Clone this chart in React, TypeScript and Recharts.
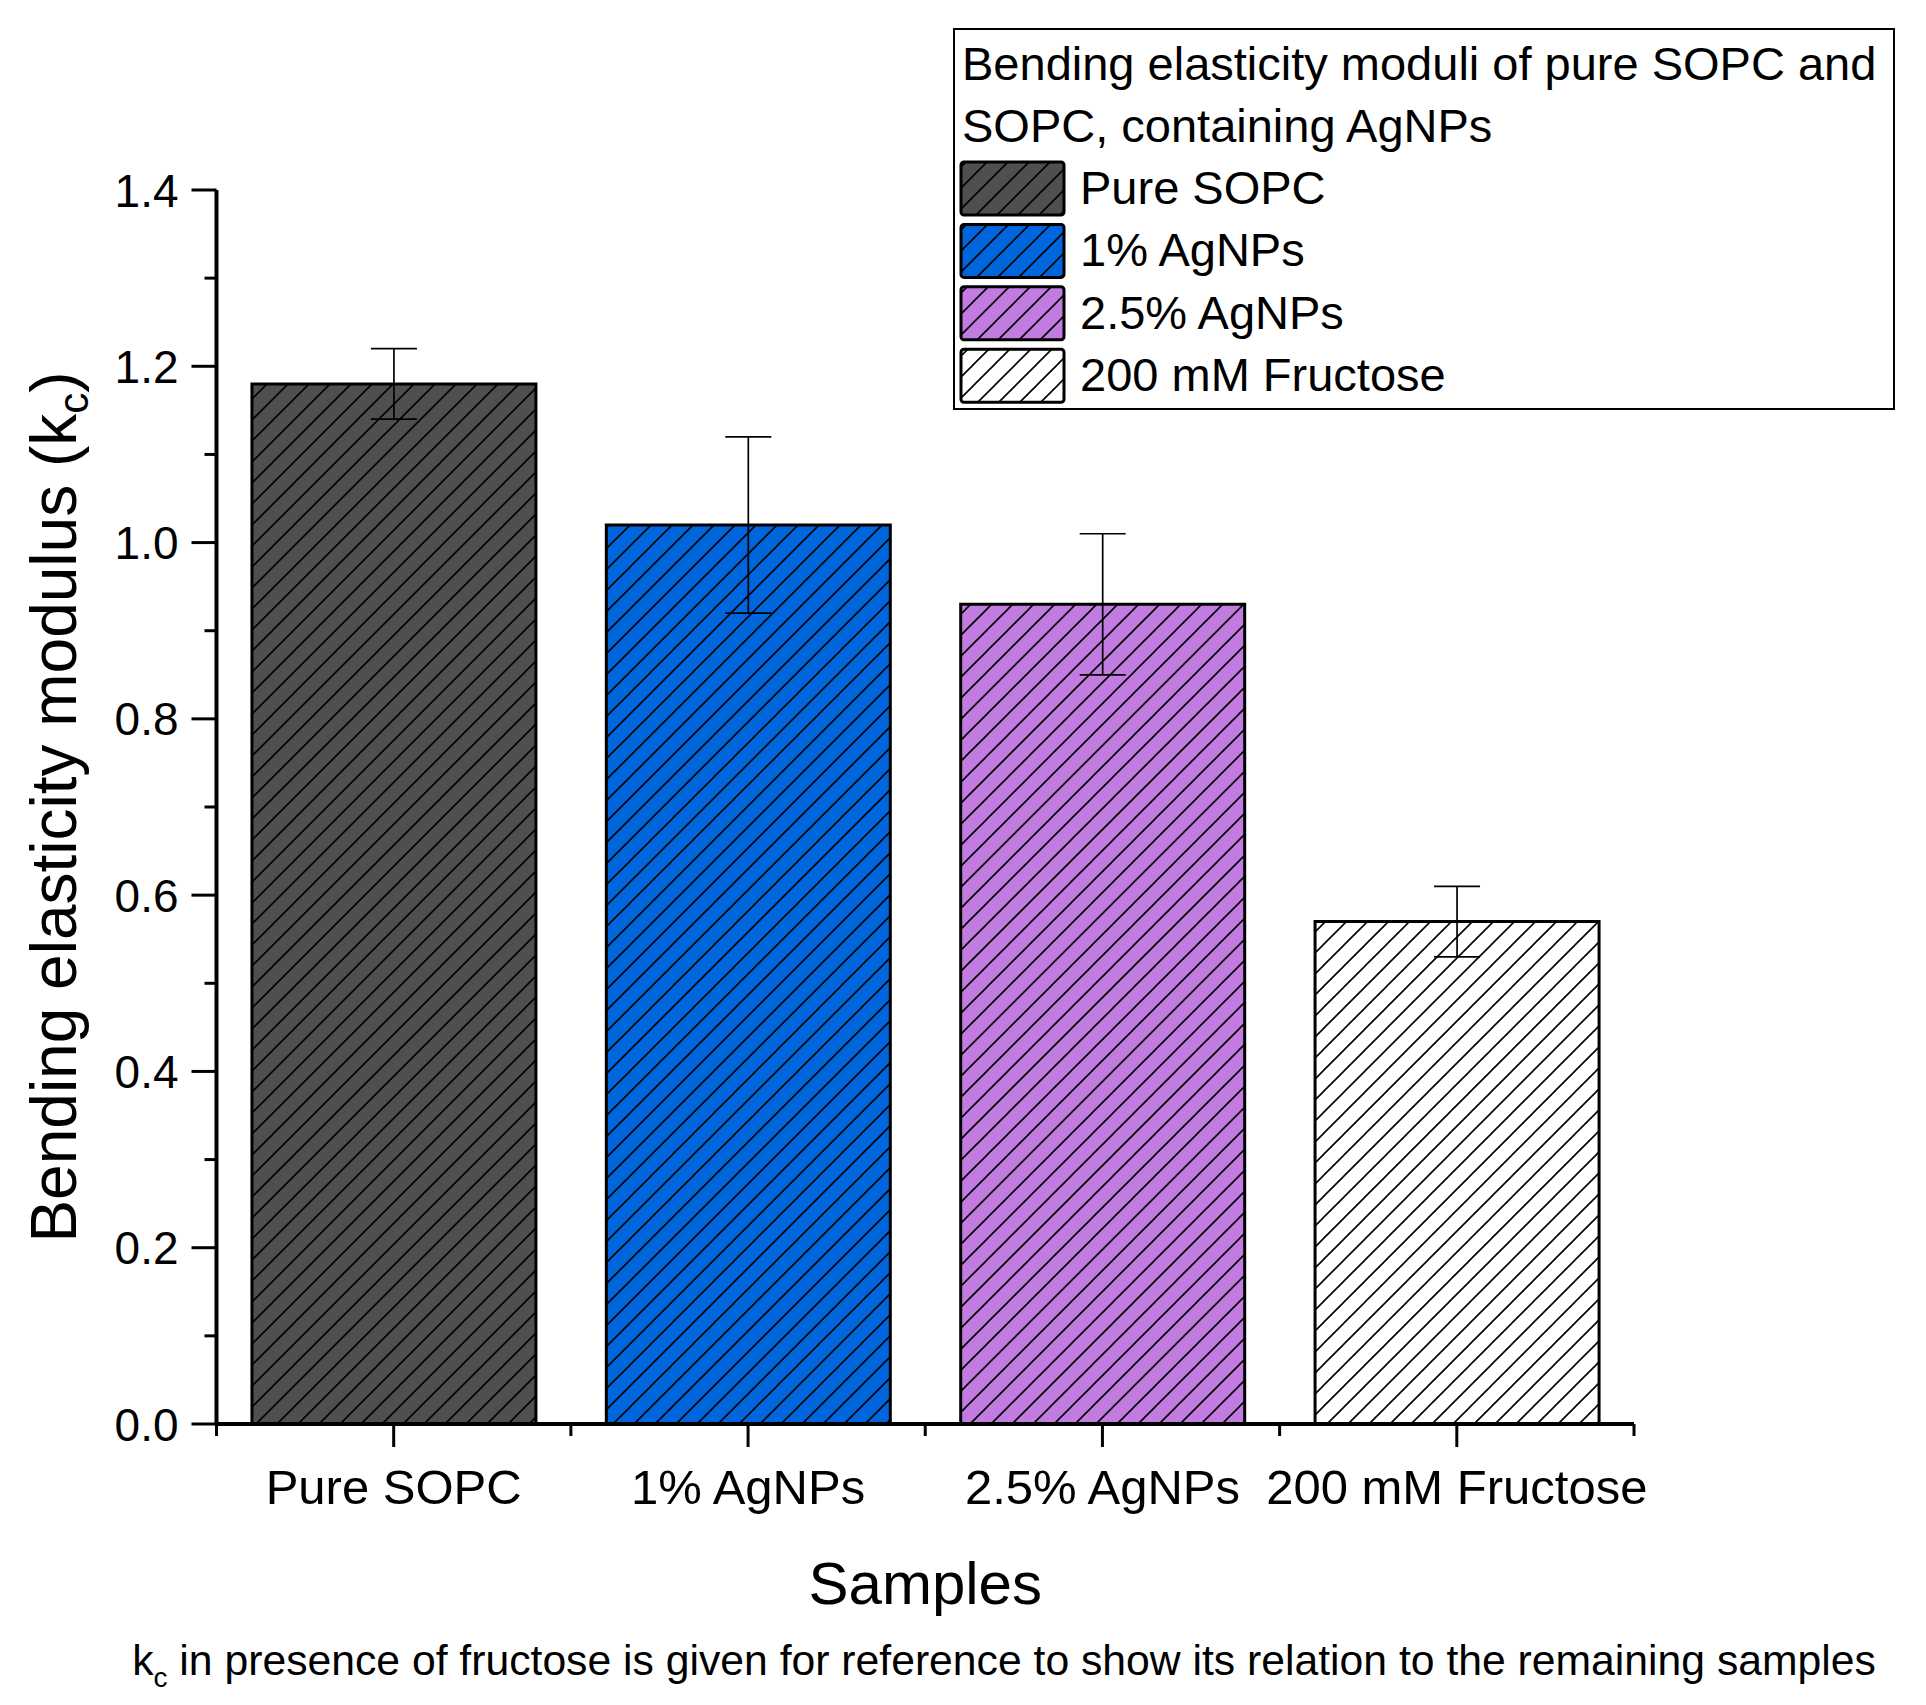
import React from 'react';
import { BarChart, Bar, XAxis, YAxis, ErrorBar, Cell, Legend } from 'recharts';

const CATEGORIES = ['Pure SOPC', '1% AgNPs', '2.5% AgNPs', '200 mM Fructose'];
const VALUES = [1.18, 1.02, 0.93, 0.57];
const ERRORS = [0.04, 0.1, 0.08, 0.04];
const COLORS = ['#4f4f4f', '#0066dd', '#c27be0', '#ffffff'];
const Y_TICKS = [0, 0.1, 0.2, 0.3, 0.4, 0.5, 0.6, 0.7, 0.8, 0.9, 1.0, 1.1, 1.2, 1.3, 1.4];
const Y_MAJOR = [0, 0.2, 0.4, 0.6, 0.8, 1.0, 1.2, 1.4];
const LEGEND_TITLE = ['Bending elasticity moduli of pure SOPC and', 'SOPC, containing AgNPs'];
const Y_LABEL = 'Bending elasticity modulus (k';
const X_LABEL = 'Samples';
const CAPTION = ' in presence of fructose is given for reference to show its relation to the remaining samples';

const FONT = "'Liberation Sans', Arial, sans-serif";

const data = CATEGORIES.map((name, i) => ({ name, value: VALUES[i], err: ERRORS[i] }));

const HatchDefs = ({ prefix }: { prefix: string }) => (
  <defs>
    {COLORS.map((c, i) => (
      <pattern key={i} id={`${prefix}${i}`} patternUnits="userSpaceOnUse" width={21} height={21}>
        <rect x={0} y={0} width={21} height={21} fill={c} />
        <path d="M-2,2 L2,-2 M0,21 L21,0 M19,23 L23,19" stroke="#000" strokeWidth={1.6} />
      </pattern>
    ))}
  </defs>
);

const YTick = (props: any) => {
  const { x, y, payload } = props;
  const v = payload.value;
  const major = Y_MAJOR.some((m) => Math.abs(m - v) < 1e-6);
  return (
    <g>
      <line x1={x} x2={x - (major ? 25 : 12)} y1={y} y2={y} stroke="#000" strokeWidth={3} />
      {major && (
        <text x={x - 38} y={y} dy="0.36em" textAnchor="end" fontSize={46} fontFamily={FONT} fill="#000">
          {Number(v).toFixed(1)}
        </text>
      )}
    </g>
  );
};

const XTick = (props: any) => {
  const { x, y, payload, index } = props;
  const half = payload && typeof payload.offset === 'number' ? payload.offset : 0;
  return (
    <g>
      <line x1={x} x2={x} y1={y} y2={y + 23} stroke="#000" strokeWidth={3} />
      {half > 0 && <line x1={x - half} x2={x - half} y1={y} y2={y + 12} stroke="#000" strokeWidth={3} />}
      {half > 0 && index === CATEGORIES.length - 1 && (
        <line x1={x + half} x2={x + half} y1={y} y2={y + 12} stroke="#000" strokeWidth={3} />
      )}
      <text x={x} y={y + 80} textAnchor="middle" fontSize={49} fontFamily={FONT} fill="#000">
        {payload.value}
      </text>
    </g>
  );
};

const renderYLabel = (props: any) => {
  const vb = props.viewBox || { x: 0, y: 190, width: 216, height: 1234 };
  const tx = vb.x + 76;
  const ty = vb.y + vb.height / 2;
  return (
    <text x={tx} y={ty} transform={`rotate(-90, ${tx}, ${ty})`} textAnchor="middle" fontSize={64} fontFamily={FONT} fill="#000">
      <tspan>{Y_LABEL}</tspan>
      <tspan dy={12} fontSize={42}>c</tspan>
      <tspan dy={-12}>)</tspan>
    </text>
  );
};

const renderXLabel = (props: any) => {
  const vb = props.viewBox || { x: 216, y: 1424, width: 1418, height: 281 };
  return (
    <g>
      <text x={vb.x + vb.width / 2} y={vb.y + 180} textAnchor="middle" fontSize={60} fontFamily={FONT} fill="#000">
        {X_LABEL}
      </text>
      <text x={1004} y={vb.y + 251} textAnchor="middle" fontSize={42.7} fontFamily={FONT} fill="#000">
        <tspan>k</tspan>
        <tspan dy={12} fontSize={28}>c</tspan>
        <tspan dy={-12}>{CAPTION}</tspan>
      </text>
    </g>
  );
};

const LegendBox = () => (
  <svg width={943} height={383} style={{ display: 'block' }}>
    <HatchDefs prefix="lh" />
    <rect x={1} y={1} width={940} height={380} fill="#fff" stroke="#000" strokeWidth={2} />
    {LEGEND_TITLE.map((t, i) => (
      <text key={i} x={9} y={52 + i * 62} fontSize={47} fontFamily={FONT} fill="#000">
        {t}
      </text>
    ))}
    {CATEGORIES.map((c, i) => (
      <g key={c}>
        <rect x={8} y={134 + i * 62.4} width={103} height={53} rx={3} fill={`url(#lh${i})`} stroke="#000" strokeWidth={3} />
        <text x={127} y={176 + i * 62.4} fontSize={47} fontFamily={FONT} fill="#000">
          {c}
        </text>
      </g>
    ))}
  </svg>
);

export default function App() {
  return (
    <div style={{ position: 'absolute', left: 0, top: 0, width: 1926, height: 1705, background: '#fff' }}>
      <BarChart
        width={1926}
        height={1705}
        data={data}
        margin={{ top: 190, right: 292, bottom: 0, left: 0 }}
        barCategoryGap="10%"
      >
        <HatchDefs prefix="bh" />
        <XAxis
          dataKey="name"
          type="category"
          height={281}
          interval={0}
          tickSize={0}
          tickMargin={0}
          tickLine={false}
          axisLine={{ stroke: '#000', strokeWidth: 4 }}
          tick={<XTick />}
          label={renderXLabel}
        />
        <YAxis
          type="number"
          domain={[0, 1.4]}
          ticks={Y_TICKS}
          interval={0}
          width={216.5}
          tickSize={0}
          tickMargin={0}
          tickLine={false}
          axisLine={{ stroke: '#000', strokeWidth: 4 }}
          tick={<YTick />}
          label={renderYLabel}
        />
        <Legend
          layout="horizontal"
          verticalAlign="middle"
          align="center"
          content={() => <LegendBox />}
          wrapperStyle={{ position: 'absolute', left: 953, top: 28, width: 943, height: 383 }}
        />
        <Bar dataKey="value" isAnimationActive={false} stroke="#000" strokeWidth={3}>
          {data.map((d, i) => (
            <Cell key={d.name} fill={`url(#bh${i})`} />
          ))}
          <ErrorBar dataKey="err" width={23} stroke="#000" strokeWidth={1.7} isAnimationActive={false} />
        </Bar>
      </BarChart>
    </div>
  );
}
